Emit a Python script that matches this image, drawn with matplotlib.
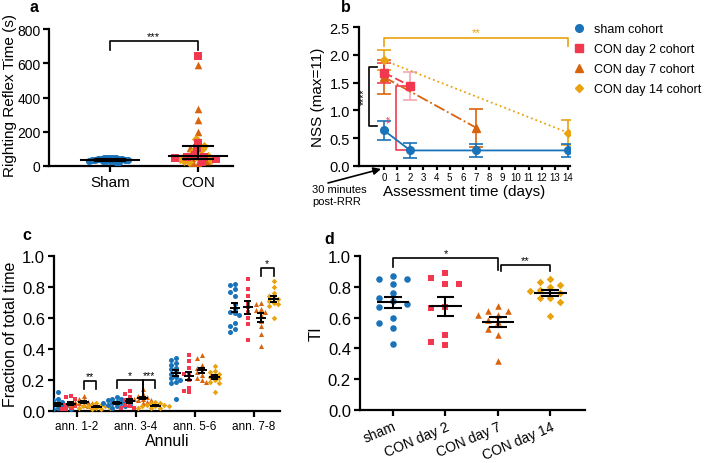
import numpy as np
import matplotlib
matplotlib.use('Agg')
import matplotlib.pyplot as plt
from matplotlib.lines import Line2D

plt.rcParams['font.family'] = ['Liberation Sans', 'DejaVu Sans']

BLUE = '#1a72b8'
RED = '#f2384f'
PINK = '#f5a6ae'
ORANGE = '#d9630c'
GOLD = '#e9a30f'

# ---------------- Panel a data ----------------
groups_a = ['Sham', 'CON']
sham_rrt = [48, 47, 46, 45, 44, 42, 40, 40, 38, 36, 35, 34, 33, 32, 30, 30, 28, 27, 25, 22]
con_d2_rrt = [640, 134, 107, 65, 55, 50, 45, 40, 25]
con_d7_rrt = [590, 335, 271, 197, 108, 60, 45, 30, 20, 18]
con_d14_rrt = [158, 119, 97, 90, 75, 57, 45, 38, 35, 30, 25]

# ---------------- Panel b data ----------------
days_sham = [0, 2, 7, 14]
nss_sham = [0.64, 0.28, 0.28, 0.28]
sem_sham = [0.17, 0.13, 0.12, 0.12]
days_d2 = [0, 2]
nss_d2 = [1.68, 1.44]
sem_d2 = [0.18, 0.25]
days_d7 = [0, 7]
nss_d7 = [1.60, 0.69]
sem_d7 = [0.31, 0.34]
days_d14 = [0, 14]
nss_d14 = [1.90, 0.60]
sem_d14 = [0.18, 0.22]
legend_b = ['sham cohort', 'CON day 2 cohort', 'CON day 7 cohort', 'CON day 14 cohort']

# ---------------- Panel c data ----------------
annuli = ['ann. 1-2', 'ann. 3-4', 'ann. 5-6', 'ann. 7-8']
c_sham = [
    [0.12, 0.08, 0.07, 0.06, 0.05, 0.04, 0.04, 0.03, 0.03, 0.02, 0.02, 0.01, 0.01, 0.01],
    [0.09, 0.08, 0.08, 0.07, 0.06, 0.06, 0.05, 0.05, 0.05, 0.04, 0.04, 0.03, 0.03, 0.02],
    [0.34, 0.33, 0.31, 0.30, 0.28, 0.27, 0.25, 0.24, 0.22, 0.21, 0.20, 0.19, 0.18, 0.08],
    [0.82, 0.81, 0.79, 0.77, 0.74, 0.69, 0.66, 0.63, 0.64, 0.62, 0.57, 0.55, 0.53, 0.51],
]
c_d2 = [
    [0.10, 0.09, 0.08, 0.05, 0.04, 0.03, 0.02, 0.01, 0.01],
    [0.13, 0.11, 0.09, 0.07, 0.06, 0.04, 0.03, 0.02, 0.02],
    [0.36, 0.32, 0.28, 0.23, 0.24, 0.20, 0.15, 0.13, 0.12],
    [0.85, 0.79, 0.74, 0.70, 0.67, 0.64, 0.60, 0.56, 0.46],
]
c_d7 = [
    [0.10, 0.08, 0.07, 0.06, 0.06, 0.05, 0.05, 0.04, 0.04, 0.03],
    [0.14, 0.11, 0.10, 0.09, 0.08, 0.08, 0.07, 0.07, 0.06, 0.05],
    [0.36, 0.34, 0.30, 0.28, 0.26, 0.25, 0.23, 0.21, 0.20, 0.19],
    [0.70, 0.69, 0.66, 0.65, 0.64, 0.62, 0.58, 0.55, 0.50, 0.42],
]
c_d14 = [
    [0.05, 0.04, 0.04, 0.03, 0.03, 0.03, 0.02, 0.02, 0.02, 0.01, 0.01],
    [0.06, 0.05, 0.05, 0.04, 0.04, 0.03, 0.03, 0.03, 0.02, 0.02, 0.02],
    [0.29, 0.26, 0.25, 0.24, 0.23, 0.22, 0.21, 0.20, 0.19, 0.18, 0.12],
    [0.84, 0.80, 0.76, 0.74, 0.73, 0.72, 0.71, 0.70, 0.69, 0.68, 0.60],
]

# ---------------- Panel d data ----------------
d_labels = ['sham', 'CON day 2', 'CON day 7', 'CON day 14']
ti_sham = [0.87, 0.85, 0.85, 0.82, 0.76, 0.73, 0.71, 0.69, 0.67, 0.60, 0.565, 0.53, 0.43]
ti_d2 = [0.89, 0.855, 0.82, 0.82, 0.667, 0.66, 0.487, 0.444, 0.42]
ti_d7 = [0.673, 0.645, 0.645, 0.617, 0.617, 0.587, 0.57, 0.526, 0.487, 0.32]
ti_d14 = [0.85, 0.83, 0.81, 0.80, 0.78, 0.77, 0.76, 0.73, 0.73, 0.70, 0.61]

# ---------------- figure ----------------
W, H = 708, 464
fig = plt.figure(figsize=(W / 100, H / 100), dpi=100)


def ax_px(l, t, r, b):
    return fig.add_axes([l / W, 1 - b / H, (r - l) / W, (b - t) / H])


def style(ax, labelsize=10.5):
    for s in ['top', 'right']:
        ax.spines[s].set_visible(False)
    for s in ['left', 'bottom']:
        ax.spines[s].set_linewidth(1.6)
    ax.tick_params(width=1.6, length=4.5, direction='out', labelsize=labelsize, pad=2)


def swarm(ax, xc, vals, step_px, dmin_px):
    t = ax.transData
    ppx = t.transform((1, 0))[0] - t.transform((0, 0))[0]
    ppy = t.transform((0, 1))[1] - t.transform((0, 0))[1]
    cands = [0.0]
    for i in range(1, 120):
        cands += [-i * step_px, i * step_px]
    placed, out = [], []
    for v in vals:
        y = v * ppy
        chosen = 0.0
        for c in cands:
            if all((c - px) ** 2 + (y - py) ** 2 >= dmin_px ** 2 - 1e-9 for px, py in placed):
                chosen = c
                break
        placed.append((chosen, y))
        out.append(xc + chosen / ppx)
    return np.array(out)


def mean_sem(ax, x, vals, hw, hc, lw=1.5):
    v = np.asarray(vals, float)
    m = v.mean()
    se = v.std(ddof=1) / np.sqrt(len(v))
    ax.plot([x - hw, x + hw], [m, m], color='k', lw=lw, zorder=6, solid_capstyle='butt')
    ax.plot([x - hc, x + hc], [m + se] * 2, color='k', lw=lw, zorder=6, solid_capstyle='butt')
    ax.plot([x - hc, x + hc], [m - se] * 2, color='k', lw=lw, zorder=6, solid_capstyle='butt')
    ax.plot([x, x], [m - se, m + se], color='k', lw=lw, zorder=6)


def bracket(ax, x1, x2, y, yl, yr, text, color='k', fs=8, lw=1.2, dy=0.0):
    ax.plot([x1, x1, x2, x2], [yl, y, y, yr], color=color, lw=lw, zorder=7, clip_on=False)
    ax.text((x1 + x2) / 2, y + dy, text, ha='center', va='bottom', fontsize=fs, color=color)


# ================= Panel a =================
axa = ax_px(49, 30, 233, 167)
style(axa, labelsize=10)
axa.tick_params(axis='y', pad=1.5)
axa.set_xlim(-0.69, 1.40)
axa.set_ylim(0, 800)
axa.set_yticks([0, 200, 400, 600, 800])
axa.set_xticks([0, 1])
axa.set_xticklabels(groups_a, fontsize=11)
axa.set_ylabel('Righting Reflex Time (s)', fontsize=11)
axa.yaxis.set_label_coords(-0.175, 0.52)

xs = swarm(axa, 0, sham_rrt, 0.5, 3.0)
axa.scatter(xs, sham_rrt, s=26, marker='o', color=BLUE, lw=0, zorder=3)

con_all = con_d2_rrt + con_d7_rrt + con_d14_rrt
order = np.argsort(con_all)
con_sorted = [con_all[i] for i in order]
xs_sorted = swarm(axa, 1, con_sorted, 0.5, 4.4)
xcon = np.empty(len(con_all))
xcon[order] = xs_sorted
n2, n7 = len(con_d2_rrt), len(con_d7_rrt)
axa.scatter(xcon[:n2], con_d2_rrt, s=36, marker='s', color=RED, lw=0, zorder=4)
axa.scatter(xcon[n2:n2 + n7], con_d7_rrt, s=30, marker='^', color=ORANGE, lw=0, zorder=3)
axa.scatter(xcon[n2 + n7:], con_d14_rrt, s=22, marker='D', color=GOLD, lw=0, zorder=3)

for x, vals in [(0, sham_rrt), (1, con_all)]:
    q1, med, q3 = np.percentile(vals, [25, 50, 75])
    axa.plot([x - 0.33, x + 0.33], [med, med], color='k', lw=1.5, zorder=6)
    axa.plot([x - 0.17, x + 0.17], [q1, q1], color='k', lw=1.5, zorder=6)
    axa.plot([x - 0.17, x + 0.17], [q3, q3], color='k', lw=1.5, zorder=6)
    axa.plot([x, x], [q1, q3], color='k', lw=1.5, zorder=6)
bracket(axa, 0, 1, 728, 675, 675, '***', fs=8)

# ================= Panel b =================
axb = ax_px(359, 28, 570, 167)
style(axb, labelsize=10.5)
axb.set_xlim(-1.9, 14.15)
axb.set_ylim(0, 2.5)
axb.set_yticks([0, 0.5, 1.0, 1.5, 2.0, 2.5])
axb.set_yticklabels(['%.1f' % v for v in [0, 0.5, 1.0, 1.5, 2.0, 2.5]])
axb.set_xticks(range(0, 15))
axb.tick_params(axis='x', labelsize=7, length=3, pad=1.5)
axb.set_ylabel('NSS (max=11)', fontsize=11, labelpad=3)
axb.set_xlabel('Assessment time (days)', fontsize=11, labelpad=1)

ekw = dict(fmt='none', capsize=5, elinewidth=1.2, capthick=1.2, zorder=3)
axb.errorbar(days_d14, nss_d14, yerr=sem_d14, ecolor=GOLD, **ekw)
axb.plot(days_d14, nss_d14, color=GOLD, ls=':', lw=1.3, marker='D', ms=4, zorder=4)
axb.errorbar(days_d7, nss_d7, yerr=sem_d7, ecolor=ORANGE, **ekw)
axb.plot(days_d7, nss_d7, color=ORANGE, ls='-.', lw=1.3, marker='^', ms=5.5, zorder=4)
axb.errorbar(days_d2[:1], nss_d2[:1], yerr=sem_d2[:1], ecolor=RED, **ekw)
axb.errorbar(days_d2[1:], nss_d2[1:], yerr=sem_d2[1:], ecolor=PINK, **ekw)
axb.plot(days_d2, nss_d2, color=RED, ls=(0, (5, 2)), lw=1.3, marker='s', ms=5.5, zorder=5)
axb.errorbar(days_sham, nss_sham, yerr=sem_sham, ecolor=BLUE, **ekw)
axb.plot(days_sham, nss_sham, color=BLUE, ls='-', lw=1.3, marker='o', ms=5.5, zorder=5)

# significance marks in b
axb.plot([0, 0, 14, 14], [2.16, 2.30, 2.30, 2.16], color=GOLD, lw=1.2, clip_on=False)
axb.text(7, 2.31, '**', color=GOLD, ha='center', va='bottom', fontsize=8)
axb.plot([-0.55, -1.14, -1.14, -0.55], [1.78, 1.78, 0.72, 0.72], color='k', lw=1.2, clip_on=False)
axb.text(-1.5, 1.27, '****', rotation=90, ha='center', va='center', fontsize=7.5)
axb.plot([1.65, 0.92, 0.92, 2.0], [1.44, 1.44, 0.28, 0.28], color=RED, lw=1.2, zorder=2)
axb.text(0.55, 0.86, '**', rotation=90, ha='center', va='center', fontsize=7.5, color=RED)

handles = [
    Line2D([], [], ls='none', marker='o', color=BLUE, ms=5.5),
    Line2D([], [], ls='none', marker='s', color=RED, ms=5.5),
    Line2D([], [], ls='none', marker='^', color=ORANGE, ms=5.5),
    Line2D([], [], ls='none', marker='D', color=GOLD, ms=4),
]
fig.legend(handles, legend_b, loc='upper left', bbox_to_anchor=(571 / W, 1 - 24 / H),
           frameon=False, fontsize=9, handlelength=1.2, handletextpad=0.6,
           borderpad=0, borderaxespad=0, labelspacing=0.65)

fig.text(312 / W, 1 - 185 / H, '30 minutes\npost-RRR', ha='left', va='top', fontsize=8, linespacing=1.25)
axb.annotate('', xy=(381 / W, 1 - 170 / H), xytext=(328 / W, 1 - 184 / H),
             xycoords='figure fraction', textcoords='figure fraction',
             arrowprops=dict(arrowstyle='-|>', color='k', lw=1.2, mutation_scale=11,
                             shrinkA=0, shrinkB=0))

# ================= Panel c =================
axc = ax_px(54, 257, 280, 412)
style(axc, labelsize=12)
axc.set_xlim(-0.39, 3.44)
axc.set_ylim(0, 1.0)
axc.set_yticks([0, 0.2, 0.4, 0.6, 0.8, 1.0])
axc.set_yticklabels(['%.1f' % v for v in [0, 0.2, 0.4, 0.6, 0.8, 1.0]])
axc.set_xticks(range(4))
axc.set_xticklabels(annuli, fontsize=8.5)
axc.set_ylabel('Fraction of total time', fontsize=11.5, labelpad=3)
axc.set_xlabel('Annuli', fontsize=11.5, labelpad=1)

offs = [-0.33, -0.11, 0.11, 0.33]
cohorts_c = [(c_sham, BLUE, 'o', 13), (c_d2, RED, 's', 12), (c_d7, ORANGE, '^', 13), (c_d14, GOLD, 'D', 8)]
for gi in range(4):
    for ci, (data, col, mk, sz) in enumerate(cohorts_c):
        xc = gi + offs[ci]
        xs = swarm(axc, xc, data[gi], 2.2, 4.2)
        axc.scatter(xs, data[gi], s=sz, marker=mk, color=col, lw=0, zorder=3)
        mean_sem(axc, xc, data[gi], 0.085, 0.055, lw=1.4)

bracket(axc, 0.11, 0.33, 0.196, 0.142, 0.142, '**', fs=7.5)
bracket(axc, 1 - 0.33, 1.11, 0.20, 0.15, 0.10, '*', fs=7.5)
bracket(axc, 1.11, 1.33, 0.20, 0.10, 0.15, '***', fs=7.5)
bracket(axc, 3.11, 3.33, 0.925, 0.87, 0.87, '*', fs=7.5)

# ================= Panel d =================
axd = ax_px(360, 257, 585, 411)
style(axd, labelsize=12)
axd.set_xlim(-0.63, 3.66)
axd.set_ylim(0, 1.0)
axd.set_yticks([0, 0.2, 0.4, 0.6, 0.8, 1.0])
axd.set_yticklabels(['%.1f' % v for v in [0, 0.2, 0.4, 0.6, 0.8, 1.0]])
axd.set_xticks(range(4))
axd.set_xticklabels(d_labels, fontsize=10, rotation=23, ha='right', rotation_mode='anchor')
axd.set_ylabel('TI', fontsize=12, labelpad=3)

cohorts_d = [(ti_sham, BLUE, 'o', 22, 14), (ti_d2, RED, 's', 24, 14),
             (ti_d7, ORANGE, '^', 22, 10), (ti_d14, GOLD, 'D', 15, 10)]
for i, (vals, col, mk, sz, st) in enumerate(cohorts_d):
    xs = swarm(axd, i, vals, st, 7.0)
    axd.scatter(xs, vals, s=sz, marker=mk, color=col, lw=0, zorder=3)
    mean_sem(axd, i, vals, 0.31, 0.17, lw=1.5)

bracket(axd, 0, 2, 0.985, 0.93, 0.91, '*', fs=8)
bracket(axd, 2.05, 3, 0.94, 0.90, 0.90, '**', fs=8)

# panel letters
for lbl, (px, py) in {'a': (34, 8), 'b': (346, 8), 'c': (27, 236), 'd': (329, 240)}.items():
    fig.text(px / W, 1 - py / H, lbl, fontsize=11.5, fontweight='bold', ha='center', va='center')

fig.savefig('out.png', dpi=100)
